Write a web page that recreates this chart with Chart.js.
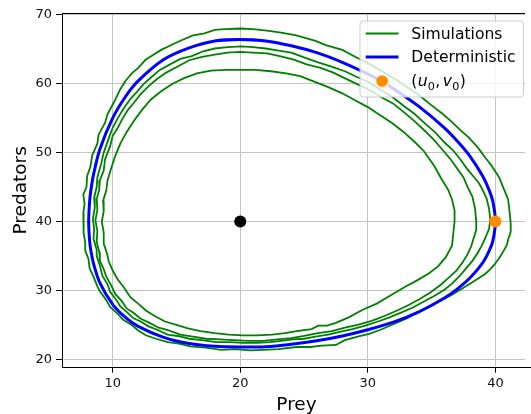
<!DOCTYPE html>
<html>
<head>
<meta charset="utf-8">
<script src="https://cdn.jsdelivr.net/npm/chart.js@4.4.1/dist/chart.umd.min.js"></script>
<style>
  html, body { margin: 0; padding: 0; overflow: hidden; background: #ffffff; }
  #phase { display: block; width: 531px; height: 414px; }
</style>
</head>
<body>
<canvas id="phase" width="531" height="414"></canvas>
<script>
// Deterministic Lotka-Volterra orbit (prey, predators)
const detPrey = [22, 20, 18, 16, 14, 12, 11, 10, 9, 8.5, 8.3, 8.2, 8.12, 8.2, 8.3, 8.5, 9, 10, 11, 12, 14, 16, 18, 20, 22, 24, 26, 28, 30, 32, 34, 36, 37, 38, 39, 39.5, 39.8, 40, 39.8, 39.5, 39, 38, 37, 36, 34, 32, 31.2, 30, 28, 26, 24, 22, 20, 18];
const detPred = [66.2, 66.4, 66.2, 65.2, 63.5, 60.4, 58.1, 55.0, 50.5, 46.8, 44.6, 43.0, 40.0, 37.1, 35.7, 33.9, 31.1, 28.0, 26.1, 24.8, 23.2, 22.3, 21.9, 21.8, 21.85, 22.2, 22.7, 23.4, 24.3, 25.4, 26.9, 28.9, 30.2, 31.8, 34.0, 35.7, 37.2, 40.0, 42.9, 44.6, 46.6, 49.5, 51.7, 53.6, 56.7, 59.3, 60.2, 61.4, 63.1, 64.5, 65.5, 66.2, 66.4, 66.2];

// Stochastic runs
const simAPrey = [41.2, 41.1, 41.0, 40.6, 40.3, 39.7, 39.2, 38.6, 37.9, 37.3, 36.5, 35.8, 34.9, 34.1, 33.0, 32.2, 31.2, 30.2, 29.0, 28.0, 26.7, 25.9, 24.4, 23.2, 22.1, 21.0, 20.0, 18.8, 18.0, 17.2, 16.3, 15.4, 14.6, 13.8, 13.2, 12.6, 12.0, 11.5, 11.0, 10.6, 10.1, 9.6, 9.4, 8.9, 8.8, 8.4, 8.25, 8.0, 7.95, 7.7, 7.8, 7.7, 7.75, 7.7, 7.85, 7.85, 8.1, 8.2, 8.5, 8.8, 9.0, 9.5, 9.8, 10.4, 10.8, 11.5, 12.0, 12.6, 13.4, 14.3, 15.2, 16.1, 17.3, 18.5, 19.6, 20.8, 21.8, 23.0, 24.4, 25.5, 26.4, 27.5, 28.2, 29.2, 30.1, 31.0, 32.0, 33.0, 33.9, 34.8, 35.7, 36.6, 37.4, 38.1, 38.7, 39.2, 39.6, 39.9, 40.3, 40.6, 40.9, 41.0, 41.2, 41.2];
const simAPred = [39.8, 41.6, 43.2, 45.0, 46.4, 48.1, 49.3, 50.8, 52.2, 53.2, 54.6, 55.7, 57.0, 58.2, 59.6, 60.6, 61.7, 62.8, 63.9, 64.9, 65.6, 66.2, 67.0, 67.4, 67.7, 67.9, 68.0, 67.9, 67.8, 67.3, 67.0, 66.3, 65.6, 64.9, 64.2, 63.5, 62.3, 61.5, 60.4, 59.2, 57.3, 55.6, 54.3, 52.6, 51.3, 49.6, 47.9, 46.6, 45.0, 43.9, 42.6, 41.2, 39.6, 38.3, 37.0, 35.8, 34.6, 33.2, 32.0, 30.6, 29.9, 28.6, 27.6, 26.6, 25.8, 25.0, 24.2, 23.5, 23.0, 22.5, 22.3, 21.9, 21.7, 21.4, 21.5, 21.3, 21.4, 21.5, 21.8, 21.8, 22.0, 22.1, 22.8, 23.3, 23.7, 24.3, 25.1, 25.9, 26.8, 27.6, 28.5, 29.4, 30.3, 31.1, 31.8, 32.4, 33.1, 33.7, 34.7, 35.6, 36.6, 37.4, 38.5, 39.8];

const simBPrey = [39.6, 39.5, 39.3, 39.0, 38.7, 38.3, 37.8, 37.3, 36.7, 36.0, 35.3, 34.5, 33.6, 32.8, 31.9, 31.0, 30.1, 29.1, 28.2, 27.1, 26.1, 25.0, 24.0, 23.0, 22.0, 21.0, 20.1, 19.0, 18.0, 17.1, 16.2, 15.3, 14.5, 13.7, 13.0, 12.4, 11.9, 11.4, 10.9, 10.4, 10.0, 9.7, 9.3, 9.1, 8.8, 8.75, 8.55, 8.6, 8.45, 8.55, 8.5, 8.75, 8.75, 9.0, 9.2, 9.6, 9.8, 10.3, 10.6, 11.1, 11.6, 12.2, 12.8, 13.5, 14.3, 15.1, 16.0, 17.0, 18.1, 19.2, 20.2, 21.3, 22.3, 23.2, 24.1, 25.0, 25.9, 26.9, 27.8, 28.8, 29.8, 30.8, 31.7, 32.6, 33.5, 34.4, 35.2, 36.0, 36.6, 37.2, 37.7, 38.2, 38.6, 38.9, 39.2, 39.5, 39.6];
const simBPred = [40.3, 41.9, 43.4, 44.6, 45.6, 46.5, 47.6, 48.9, 50.3, 51.5, 52.9, 54.2, 55.7, 56.8, 58.1, 59.1, 60.2, 61.0, 61.8, 62.5, 63.1, 63.8, 64.5, 64.8, 65.1, 65.3, 65.4, 65.3, 65.1, 64.7, 64.0, 63.6, 62.8, 62.0, 60.9, 59.9, 58.8, 57.8, 56.5, 55.0, 53.6, 52.1, 50.0, 48.4, 46.4, 45.0, 43.5, 42.0, 40.4, 38.9, 37.5, 35.9, 35.0, 33.6, 32.1, 30.9, 29.8, 28.6, 27.7, 26.9, 26.0, 25.5, 24.8, 24.3, 23.6, 23.4, 23.0, 22.8, 22.5, 22.5, 22.4, 22.4, 22.5, 22.7, 22.9, 23.0, 23.3, 23.6, 24.0, 24.4, 24.9, 25.5, 26.1, 26.8, 27.5, 28.4, 29.2, 30.1, 31.0, 32.1, 33.2, 34.3, 35.4, 36.4, 37.6, 38.9, 40.3];

const simCPrey = [38.5, 38.4, 38.2, 37.8, 37.5, 37.0, 36.5, 35.9, 35.2, 34.5, 33.7, 32.8, 32.0, 31.1, 30.2, 29.2, 28.3, 27.3, 26.3, 25.2, 24.2, 23.1, 22.1, 21.0, 20.0, 19.0, 18.0, 17.0, 16.0, 15.1, 14.2, 13.5, 12.8, 12.2, 11.7, 11.2, 10.8, 10.4, 10.0, 9.8, 9.4, 9.3, 9.0, 8.95, 8.75, 8.8, 8.65, 8.8, 8.75, 8.95, 9.0, 9.3, 9.5, 9.9, 10.2, 10.7, 11.1, 11.6, 12.2, 12.9, 13.6, 14.4, 15.3, 16.3, 17.3, 18.4, 19.5, 20.6, 21.8, 22.9, 24.0, 25.0, 26.1, 27.2, 28.2, 29.2, 30.3, 31.3, 32.3, 33.2, 34.1, 34.9, 35.7, 36.3, 36.9, 37.4, 37.8, 38.1, 38.3, 38.5, 38.5];
const simCPred = [40.0, 41.9, 43.6, 45.1, 46.4, 47.7, 49.0, 50.3, 51.8, 53.1, 54.5, 55.9, 57.1, 58.0, 59.0, 59.9, 60.7, 61.6, 62.3, 62.8, 63.5, 64.0, 64.4, 64.5, 64.6, 64.5, 64.2, 63.9, 63.4, 62.5, 61.6, 60.7, 59.6, 58.5, 57.3, 56.2, 55.0, 53.6, 52.4, 50.9, 49.0, 47.4, 46.0, 44.6, 43.3, 41.7, 40.2, 38.6, 37.0, 35.6, 34.3, 33.1, 32.0, 30.7, 29.5, 28.5, 27.4, 26.8, 25.9, 25.3, 24.6, 24.2, 23.6, 23.3, 23.0, 22.9, 22.8, 22.7, 22.7, 22.9, 23.1, 23.4, 23.8, 24.1, 24.6, 25.0, 25.6, 26.3, 27.1, 27.9, 28.8, 29.7, 30.8, 31.8, 32.8, 34.0, 35.2, 36.4, 37.6, 38.8, 40.0];

const simDPrey = [36.8, 36.8, 36.6, 36.3, 35.8, 35.2, 34.4, 33.7, 32.8, 31.9, 31.0, 30.0, 29.0, 28.0, 26.9, 25.8, 24.7, 23.6, 22.4, 21.2, 20.0, 18.9, 17.7, 16.6, 15.6, 14.7, 13.8, 13.0, 12.3, 11.7, 11.1, 10.6, 10.2, 9.9, 9.6, 9.5, 9.25, 9.3, 9.15, 9.3, 9.3, 9.55, 9.7, 10.0, 10.4, 10.9, 11.4, 12.0, 12.6, 13.3, 14.1, 15.0, 15.9, 16.9, 18.0, 19.1, 20.2, 21.3, 22.5, 23.5, 24.4, 25.6, 26.1, 26.8, 27.5, 28.5, 29.6, 30.7, 31.8, 32.9, 33.9, 34.8, 35.5, 36.1, 36.6, 36.7, 36.8];
const simDPred = [40.0, 41.6, 43.2, 44.6, 46.1, 48.1, 50.2, 51.5, 53.0, 54.3, 55.4, 56.6, 57.6, 58.6, 59.5, 60.3, 61.1, 61.5, 61.8, 62.0, 62.0, 62.0, 61.9, 61.5, 60.8, 60.0, 58.9, 57.7, 56.2, 54.7, 53.0, 51.3, 49.5, 47.8, 46.0, 44.5, 43.0, 41.5, 40.0, 38.4, 36.8, 35.4, 34.2, 32.9, 31.6, 30.4, 29.0, 28.1, 27.1, 26.3, 25.5, 25.0, 24.5, 24.1, 23.8, 23.6, 23.5, 23.5, 23.6, 23.8, 24.1, 24.4, 24.9, 24.9, 25.3, 26.1, 27.2, 28.1, 29.3, 30.5, 31.5, 32.5, 33.5, 34.8, 36.5, 38.3, 40.0];

// Initial conditions and equilibrium
const startPrey = [40, 31.2];
const startPred = [40, 60.2];
const equilPrey = [20];
const equilPred = [40];

// Axis ticks
const xTicks = [10, 20, 30, 40];
const yTicks = [20, 30, 40, 50, 60, 70];

const pts = (xs, ys) => xs.map((x, i) => ({ x: x, y: ys[i] }));

const GREEN = '#008000';
const BLUE = '#0000ff';
const ORANGE = '#ff8c00';

function simSet(xs, ys, label) {
  return {
    label: label,
    data: pts(xs, ys),
    showLine: true,
    borderColor: GREEN,
    borderWidth: 1.8,
    pointRadius: 0,
    tension: 0,
    order: 3
  };
}

// The axes box continues a little past the right edge of the canvas:
// extend the x scale's extent so its title is centred on the full box.
const xBoxPlugin = {
  id: 'xBox',
  afterLayout(chart) {
    const s = chart.scales.x;
    s.right = s.right + 6;
  }
};

// Top spine
const framePlugin = {
  id: 'frame',
  afterDraw(chart) {
    const { ctx, chartArea: a } = chart;
    ctx.save();
    ctx.strokeStyle = '#000';
    ctx.lineWidth = 1;
    ctx.beginPath();
    ctx.moveTo(a.left, a.top + 0.5);
    ctx.lineTo(a.right, a.top + 0.5);
    ctx.stroke();
    ctx.restore();
  }
};

// Framed legend in the upper-right corner of the plot area
const legendPlugin = {
  id: 'boxLegend',
  afterDraw(chart) {
    const { ctx, chartArea: a } = chart;
    const fs = 15.6;
    const w = 163.5, h = 76, r = 3;
    const x0 = a.right - 1.5 - w;
    const y0 = a.top + 8;
    ctx.save();
    ctx.beginPath();
    ctx.moveTo(x0 + r, y0);
    ctx.lineTo(x0 + w - r, y0);
    ctx.arcTo(x0 + w, y0, x0 + w, y0 + r, r);
    ctx.lineTo(x0 + w, y0 + h - r);
    ctx.arcTo(x0 + w, y0 + h, x0 + w - r, y0 + h, r);
    ctx.lineTo(x0 + r, y0 + h);
    ctx.arcTo(x0, y0 + h, x0, y0 + h - r, r);
    ctx.lineTo(x0, y0 + r);
    ctx.arcTo(x0, y0, x0 + r, y0, r);
    ctx.closePath();
    ctx.fillStyle = 'rgba(255,255,255,0.8)';
    ctx.fill();
    ctx.strokeStyle = '#cccccc';
    ctx.lineWidth = 1;
    ctx.stroke();

    const rows = [y0 + 12.5, y0 + 36, y0 + 60];
    const hx1 = x0 + 5.7, hx2 = x0 + 38.5, tx = x0 + 51.3;
    const ds = chart.data.datasets;

    // line handles
    [[ds[0], rows[0]], [ds[4], rows[1]]].forEach(([d, yy]) => {
      ctx.strokeStyle = d.borderColor;
      ctx.lineWidth = d.borderWidth;
      ctx.beginPath();
      ctx.moveTo(hx1, yy);
      ctx.lineTo(hx2, yy);
      ctx.stroke();
    });
    // marker handle
    ctx.fillStyle = ORANGE;
    ctx.beginPath();
    ctx.arc((hx1 + hx2) / 2, rows[2], 5.8, 0, Math.PI * 2);
    ctx.fill();

    ctx.fillStyle = '#000';
    ctx.textBaseline = 'alphabetic';
    ctx.textAlign = 'left';
    ctx.font = fs + 'px "DejaVu Sans"';
    ctx.fillText(ds[0].label, tx, rows[0] + 5.4);
    ctx.fillText(ds[4].label, tx, rows[1] + 5.4);

    // (u0, v0) with italic symbols and subscripts
    const parts = [
      ['(', 'n'], ['u', 'i'], ['0', 's'], [',', 'n'], ['v', 'i'], ['0', 's'], [')', 'n']
    ];
    let cx = tx;
    const base = rows[2] + 5.4;
    parts.forEach(([t, k]) => {
      let yy = base;
      if (k === 'i') ctx.font = 'oblique ' + fs + 'px "DejaVu Sans"';
      else if (k === 's') { ctx.font = (fs * 0.72) + 'px "DejaVu Sans"'; yy = base + 3.4; }
      else ctx.font = fs + 'px "DejaVu Sans"';
      ctx.fillText(t, cx, yy);
      cx += ctx.measureText(t).width + (t === ',' ? 2.5 : 0.3);
    });
    ctx.restore();
  }
};

Chart.defaults.font.family = '"DejaVu Sans", sans-serif';
Chart.defaults.color = '#111';

new Chart(document.getElementById('phase'), {
  type: 'scatter',
  data: {
    datasets: [
      simSet(simAPrey, simAPred, 'Simulations'),
      simSet(simBPrey, simBPred, 'Simulations'),
      simSet(simCPrey, simCPred, 'Simulations'),
      simSet(simDPrey, simDPred, 'Simulations'),
      {
        label: 'Deterministic',
        data: pts(detPrey, detPred),
        showLine: true,
        borderColor: BLUE,
        borderWidth: 3,
        pointRadius: 0,
        tension: 0.35,
        order: 2
      },
      {
        label: '(u₀, v₀)',
        data: pts(startPrey, startPred),
        showLine: false,
        pointRadius: 6,
        pointBackgroundColor: ORANGE,
        pointBorderWidth: 0,
        order: 1
      },
      {
        label: 'Equilibrium',
        data: pts(equilPrey, equilPred),
        showLine: false,
        pointRadius: 6,
        pointBackgroundColor: '#000',
        pointBorderWidth: 0,
        order: 1
      }
    ]
  },
  options: {
    responsive: false,
    maintainAspectRatio: false,
    devicePixelRatio: 1,
    animation: false,
    events: [],
    layout: { padding: { top: 13, right: 0, left: 0, bottom: 0 } },
    plugins: {
      legend: { display: false },
      tooltip: { enabled: false }
    },
    scales: {
      x: {
        type: 'linear',
        min: 6.03,
        max: 42.32,
        afterBuildTicks: s => { s.ticks = xTicks.map(v => ({ value: v })); },
        afterFit: s => { s.height = 46.3; s.paddingLeft = 0; s.paddingRight = 0; },
        grid: { color: '#c4c4c4', lineWidth: 1, tickLength: 5, tickColor: '#000', drawTicks: true },
        border: { display: true, color: '#000', width: 1 },
        ticks: { font: { size: 13 }, color: '#111', padding: 3, maxRotation: 0 },
        title: {
          display: true,
          text: 'Prey',
          font: { size: 18.5, lineHeight: 1 },
          color: '#000',
          padding: { top: 0, bottom: 0 }
        }
      },
      y: {
        type: 'linear',
        min: 18.8,
        max: 70.25,
        afterBuildTicks: s => { s.ticks = yTicks.map(v => ({ value: v })); },
        afterFit: s => { s.width = 62; },
        grid: { color: '#c4c4c4', lineWidth: 1, tickLength: 6, tickColor: '#000', drawTicks: true },
        border: { display: true, color: '#000', width: 1 },
        ticks: { font: { size: 13 }, color: '#111', padding: 4 },
        title: {
          display: true,
          text: 'Predators',
          font: { size: 18.5, lineHeight: 1 },
          color: '#000',
          padding: { top: 12, bottom: 0 }
        }
      }
    }
  },
  plugins: [xBoxPlugin, framePlugin, legendPlugin]
});
</script>
</body>
</html>
